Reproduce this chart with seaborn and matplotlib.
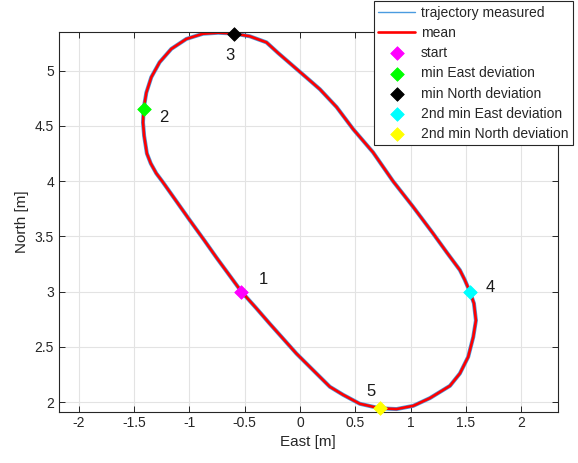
import numpy as np
import pandas as pd
import seaborn as sns
import matplotlib
matplotlib.use('Agg')
import matplotlib.pyplot as plt

# mean trajectory (start -> 2 -> 3 -> 4 -> 5 -> start)
east = [-0.53, -0.64, -0.75, -0.87, -1.00, -1.12, -1.24, -1.30, -1.35, -1.385,
        -1.41, -1.42, -1.415, -1.39, -1.345, -1.27, -1.164, -1.028, -0.878, -0.74,
        -0.60, -0.455, -0.304, -0.20, -0.05, 0.10, 0.18, 0.33, 0.48, 0.66,
        0.84, 1.02, 1.20, 1.33, 1.445, 1.49, 1.535, 1.572, 1.59, 1.566,
        1.52, 1.445, 1.355, 1.174, 1.023, 0.872, 0.72, 0.54, 0.389, 0.269,
        0.148, -0.033, -0.274, -0.40, -0.53]
north = [3.00, 3.15, 3.30, 3.47, 3.65, 3.82, 3.99, 4.07, 4.16, 4.25,
         4.41, 4.53, 4.65, 4.80, 4.94, 5.075, 5.196, 5.286, 5.333, 5.342,
         5.335, 5.31, 5.255, 5.16, 5.03, 4.90, 4.83, 4.67, 4.47, 4.26,
         4.00, 3.77, 3.53, 3.35, 3.195, 3.105, 3.00, 2.894, 2.74, 2.59,
         2.41, 2.26, 2.148, 2.037, 1.967, 1.938, 1.945, 1.986, 2.067, 2.14,
         2.26, 2.44, 2.71, 2.855, 3.00]

# special points
point_names = ['start', 'min East deviation', 'min North deviation',
               '2nd min East deviation', '2nd min North deviation']
point_east = [-0.53, -1.415, -0.60, 1.535, 0.72]
point_north = [3.00, 4.65, 5.335, 3.00, 1.945]
point_colors = ['#ff00ff', '#00ff00', '#000000', '#00ffff', '#ffff00']
point_labels = ['1', '2', '3', '4', '5']
label_east = [-0.33, -1.23, -0.63, 1.72, 0.64]
label_north = [3.11, 4.575, 5.135, 3.04, 2.095]

xticks = [-2, -1.5, -1, -0.5, 0, 0.5, 1, 1.5, 2]
xtick_labels = ['-2', '-1.5', '-1', '-0.5', '0', '0.5', '1', '1.5', '2']
yticks = [2, 2.5, 3, 3.5, 4, 4.5, 5]
ytick_labels = ['2', '2.5', '3', '3.5', '4', '4.5', '5']

df = pd.DataFrame({'east': east, 'north': north})

sns.set_style('whitegrid')
plt.rcParams['font.family'] = ['Liberation Sans', 'DejaVu Sans']

fig = plt.figure(figsize=(5.78, 4.63), dpi=100)
ax = fig.add_axes([0.102, 0.111, 0.863, 0.819])

sns.lineplot(data=df, x='east', y='north', sort=False, estimator=None,
             color='#4a9be0', linewidth=2.9, label='trajectory measured', ax=ax,
             solid_joinstyle='round')
sns.lineplot(data=df, x='east', y='north', sort=False, estimator=None,
             color='#ff0000', linewidth=1.9, label='mean', ax=ax,
             solid_joinstyle='round')

for i in range(len(point_names)):
    sns.scatterplot(x=[point_east[i]], y=[point_north[i]], marker='D', s=48,
                    color=point_colors[i], edgecolor=point_colors[i],
                    label=point_names[i], zorder=5, clip_on=False, ax=ax)
    ax.text(label_east[i], label_north[i], point_labels[i], fontsize=12,
            color='#1a1a1a', ha='center', va='center')

ax.set_xlim(-2.18, 2.33)
ax.set_ylim(1.915, 5.345)
ax.set_xticks(xticks)
ax.set_xticklabels(xtick_labels)
ax.set_yticks(yticks)
ax.set_yticklabels(ytick_labels)
ax.set_xlabel('East [m]', fontsize=11, color='#262626', labelpad=3)
ax.set_ylabel('North [m]', fontsize=11, color='#262626', labelpad=4)

ax.grid(True, color='#e3e3e3', linewidth=0.8)
ax.tick_params(direction='in', length=4, width=0.7, colors='#262626',
               labelsize=10, top=True, right=True, bottom=True, left=True)
for sp in ax.spines.values():
    sp.set_color('#262626')
    sp.set_linewidth(0.8)

handles, labels = ax.get_legend_handles_labels()
ax.get_legend().remove()
leg = fig.legend(handles, labels, loc='upper left', bbox_to_anchor=(0.644, 1.0),
                 fontsize=10, frameon=True, fancybox=False, framealpha=1,
                 edgecolor='#262626', borderaxespad=0.1, borderpad=0.3,
                 handlelength=2.7, handletextpad=0.4, labelspacing=0.45)
leg.get_frame().set_linewidth(0.8)
leg.legend_handles[0].set_linewidth(1.0)

fig.savefig('out.png', dpi=100)
